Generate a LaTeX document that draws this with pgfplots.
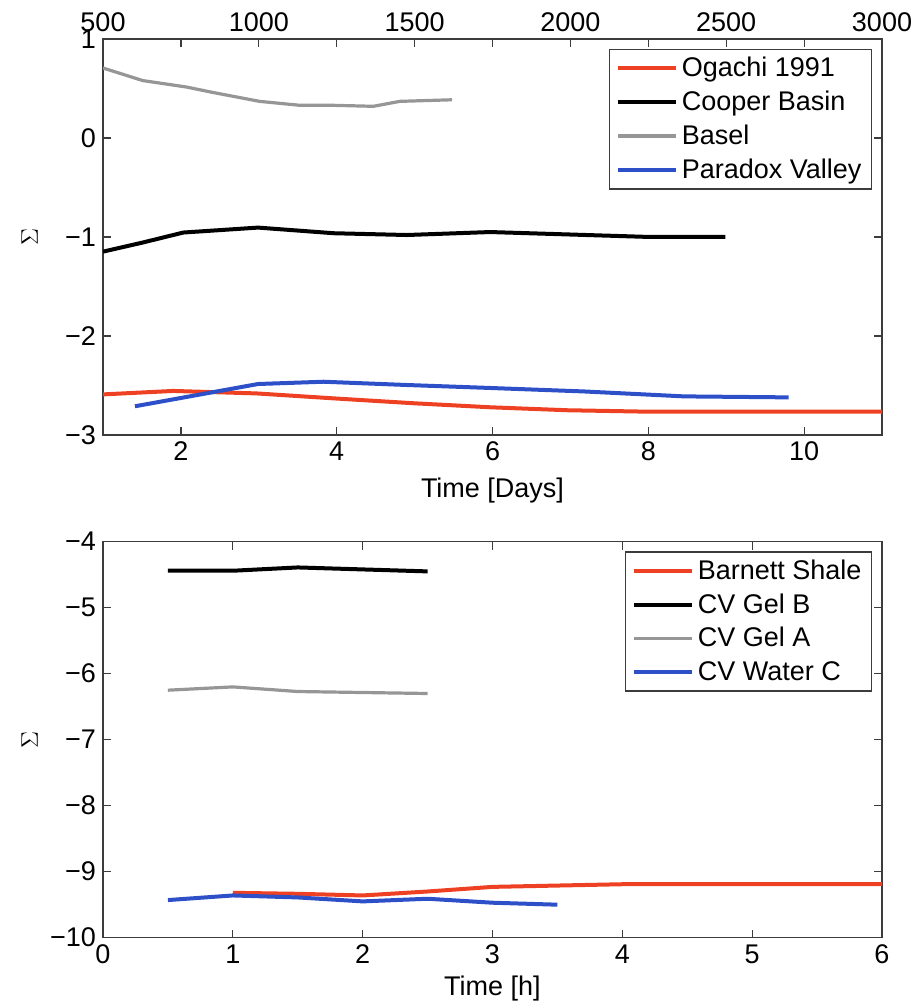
\documentclass[border=0pt]{standalone}
\usepackage{pgfplots}
\pgfplotsset{compat=1.18}
\usepackage{fontspec}
\setmainfont{Liberation Sans}
\definecolor{cred}{RGB}{238,64,34}
\definecolor{cblue}{RGB}{45,80,200}
\definecolor{cgray}{RGB}{150,150,150}
\definecolor{axc}{RGB}{60,60,60}
\pgfplotsset{
  every axis/.append style={
    scale only axis, width=389.5pt, height=198pt,
    font=\fontsize{13.5}{16}\selectfont,
    tick align=inside, major tick length=4pt,
    axis line style={axc, line width=0.6pt},
    every tick/.style={axc, line width=0.6pt},
    /pgf/number format/assume math mode=true,
    /pgf/number format/1000 sep={},
  },
  mylegend/.style={
    legend style={at={(1,1)}, anchor=north east, xshift=-5pt, yshift=-4.8pt,
      draw=axc, line width=0.6pt, cells={anchor=west}, row sep=1.6pt,
      inner xsep=3pt, inner ysep=2pt,
      font=\fontsize{13.5}{16}\selectfont},
    legend image code/.code={\draw[##1] (0pt,0pt) -- (29pt,0pt);},
  },
}
\begin{document}
\begin{tikzpicture}
\path[use as bounding box] (0,0) rectangle (457pt,-502pt);
% top panel
\begin{axis}[at={(51.5pt,-19.5pt)}, anchor=north west,
  xmin=1, xmax=11, ymin=-3, ymax=1,
  xtick={2,4,6,8,10}, ytick={-3,-2,-1,0,1},
  yticklabels={−3,−2,−1,0,1},
  xticklabel pos=lower,
  xlabel={Time [Days]}, ylabel={\large$\Sigma$},
  xlabel style={at={(axis description cs:0.5,-0.139)}, anchor=center},
  ylabel style={at={(axis description cs:-0.094,0.5)}, anchor=center},
  mylegend]
\addplot[cred, line width=2pt] coordinates {(1,-2.59) (1.9,-2.555) (2.97,-2.58) (3.96,-2.63) (5.0,-2.68) (5.97,-2.72) (6.96,-2.75) (8.03,-2.765) (11,-2.765)};
\addlegendentry{Ogachi 1991}
\addplot[black, line width=2pt] coordinates {(1,-1.148) (1.51,-1.056) (2.03,-0.955) (2.99,-0.905) (3.96,-0.962) (4.9,-0.98) (5.97,-0.95) (8.03,-1.0) (8.99,-1.0)};
\addlegendentry{Cooper Basin}
\addplot[cgray, line width=1.6pt] coordinates {(1,0.707) (1.51,0.58) (2.07,0.515) (2.41,0.46) (3.01,0.37) (3.53,0.33) (3.96,0.33) (4.47,0.32) (4.81,0.37) (5.48,0.386)};
\addlegendentry{Basel}
\addplot[cblue, line width=2pt] coordinates {(1.41,-2.71) (2.99,-2.485) (3.83,-2.462) (4.9,-2.495) (5.97,-2.525) (7.17,-2.56) (8.46,-2.61) (9.80,-2.62)};
\addlegendentry{Paradox Valley}
\end{axis}
\begin{axis}[at={(51.5pt,-19.5pt)}, anchor=north west,
  xmin=500, xmax=3000, ymin=-3, ymax=1,
  axis x line*=top, axis y line=none,
  xtick={500,1000,1500,2000,2500,3000}]
\end{axis}
% bottom panel
\begin{axis}[at={(51.5pt,-270.85pt)}, anchor=north west,
  xmin=0, xmax=6, ymin=-10, ymax=-4,
  xtick={0,1,...,6}, ytick={-10,-9,...,-4},
  yticklabels={−10,−9,−8,−7,−6,−5,−4},
  xlabel={Time [h]}, ylabel={\large$\Sigma$},
  xlabel style={at={(axis description cs:0.5,-0.129)}, anchor=center},
  ylabel style={at={(axis description cs:-0.094,0.5)}, anchor=center},
  mylegend]
\addplot[cred, line width=2pt] coordinates {(1,-9.32) (1.5,-9.335) (2,-9.36) (2.5,-9.3) (3,-9.23) (4,-9.19) (6,-9.19)};
\addlegendentry{Barnett Shale}
\addplot[black, line width=2pt] coordinates {(0.5,-4.44) (1,-4.44) (1.5,-4.39) (2,-4.42) (2.5,-4.45)};
\addlegendentry{CV Gel B}
\addplot[cgray, line width=1.6pt] coordinates {(0.5,-6.25) (1,-6.20) (1.5,-6.27) (2.5,-6.30)};
\addlegendentry{CV Gel A}
\addplot[cblue, line width=2pt] coordinates {(0.5,-9.43) (1,-9.36) (1.5,-9.39) (2,-9.45) (2.5,-9.41) (3,-9.47) (3.5,-9.50)};
\addlegendentry{CV Water C}
\end{axis}
\end{tikzpicture}
\end{document}
